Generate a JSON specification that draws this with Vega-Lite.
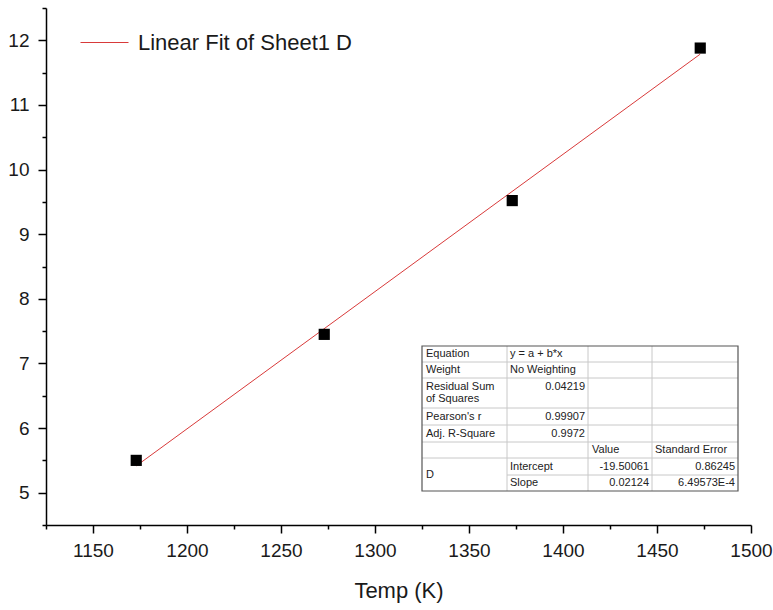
{
  "$schema": "https://vega.github.io/schema/vega-lite/v6.json",
  "width": 705,
  "height": 517,
  "autosize": {"type": "none"},
  "padding": {"left": 46, "top": 8, "right": 22, "bottom": 85},
  "background": "white",
  "config": {
    "view": {"stroke": null},
    "font": "Liberation Sans",
    "axis": {
      "domainColor": "black", "domainWidth": 1.5, "tickColor": "black", "tickWidth": 1.5,
      "grid": false, "labelColor": "#1a1a1a", "labelFont": "Liberation Sans", "labelFontSize": 19,
      "labelFlush": false, "labelOverlap": false, "titleFont": "Liberation Sans", "titleFontWeight": "normal", "titleColor": "#1a1a1a"
    }
  },
  "datasets": {
    "points": [
      {"Temp": 1173, "D": 5.50},
      {"Temp": 1273, "D": 7.45},
      {"Temp": 1373, "D": 9.52},
      {"Temp": 1473, "D": 11.88}
    ],
    "fit": [
      {"Temp": 1173, "D": 5.41439, "series": "Linear Fit of Sheet1 D"},
      {"Temp": 1473, "D": 11.78639, "series": "Linear Fit of Sheet1 D"}
    ],
    "frame": [{"x0": 0, "x1": 316, "y0": 0, "y1": 145}],
    "gridlines": [
      {"x0": 0, "x1": 316, "y0": 16, "y1": 16},
      {"x0": 0, "x1": 316, "y0": 32, "y1": 32},
      {"x0": 0, "x1": 316, "y0": 62, "y1": 62},
      {"x0": 0, "x1": 316, "y0": 79, "y1": 79},
      {"x0": 0, "x1": 316, "y0": 96, "y1": 96},
      {"x0": 0, "x1": 316, "y0": 112, "y1": 112},
      {"x0": 85, "x1": 316, "y0": 129, "y1": 129},
      {"x0": 85, "x1": 85, "y0": 0, "y1": 145},
      {"x0": 166, "x1": 166, "y0": 0, "y1": 145},
      {"x0": 230, "x1": 230, "y0": 0, "y1": 145}
    ],
    "texts": [
      {"t": "Equation", "x": 4, "y": 8, "kind": "l"},
      {"t": "y = a + b*x", "x": 88, "y": 8, "kind": "l"},
      {"t": "Weight", "x": 4, "y": 24, "kind": "l"},
      {"t": "No Weighting", "x": 88, "y": 24, "kind": "l"},
      {"t": "Residual Sum", "x": 4, "y": 41, "kind": "l"},
      {"t": "of Squares", "x": 4, "y": 53, "kind": "l"},
      {"t": "Pearson's r", "x": 4, "y": 71, "kind": "l"},
      {"t": "Adj. R-Square", "x": 4, "y": 88, "kind": "l"},
      {"t": "Value", "x": 170, "y": 104, "kind": "l"},
      {"t": "Standard Error", "x": 233, "y": 104, "kind": "l"},
      {"t": "D", "x": 4, "y": 129, "kind": "l"},
      {"t": "Intercept", "x": 88, "y": 121, "kind": "l"},
      {"t": "Slope", "x": 88, "y": 137, "kind": "l"},
      {"t": "0.04219", "x": 163, "y": 41, "kind": "r"},
      {"t": "0.99907", "x": 163, "y": 71, "kind": "r"},
      {"t": "0.9972", "x": 163, "y": 88, "kind": "r"},
      {"t": "-19.50061", "x": 227, "y": 121, "kind": "r"},
      {"t": "0.86245", "x": 313, "y": 121, "kind": "r"},
      {"t": "0.02124", "x": 227, "y": 137, "kind": "r"},
      {"t": "6.49573E-4", "x": 313, "y": 137, "kind": "r"}
    ]
  },
  "layer": [
    {
      "layer": [
        {
          "data": {"name": "fit"},
          "mark": {"type": "line", "strokeWidth": 1},
          "encoding": {
            "x": {
              "field": "Temp", "type": "quantitative",
              "scale": {"domain": [1125, 1500], "nice": false, "zero": false},
              "axis": {
                "orient": "bottom", "title": "Temp (K)", "titleFontSize": 22, "titlePadding": 20,
                "values": [1150, 1200, 1250, 1300, 1350, 1400, 1450, 1500],
                "format": "d", "tickSize": 8, "labelPadding": 8
              }
            },
            "y": {
              "field": "D", "type": "quantitative",
              "scale": {"domain": [4.5, 12.5], "nice": false, "zero": false},
              "axis": {
                "orient": "left", "title": null,
                "values": [5, 6, 7, 8, 9, 10, 11, 12],
                "format": "d", "tickSize": 8, "labelPadding": 9
              }
            },
            "color": {
              "field": "series", "type": "nominal",
              "scale": {"range": ["#d83a3a"]},
              "legend": {
                "title": null, "orient": "none", "legendX": 34, "legendY": 10, "padding": 0,
                "symbolType": "stroke", "symbolSize": 2304, "symbolStrokeWidth": 1, "labelLimit": 500,
                "labelFontSize": 22, "labelFont": "Liberation Sans", "labelColor": "#1a1a1a", "labelOffset": 9
              }
            }
          }
        },
        {
          "data": {"name": "points"},
          "mark": {"type": "square", "size": 125, "color": "black", "opacity": 1, "filled": true},
          "encoding": {
            "x": {
              "field": "Temp", "type": "quantitative",
              "axis": {
                "orient": "bottom", "title": null, "labels": false, "domain": false,
                "values": [1125, 1175, 1225, 1275, 1325, 1375, 1425, 1475], "tickSize": 4
              }
            },
            "y": {
              "field": "D", "type": "quantitative",
              "axis": {
                "orient": "left", "title": null, "labels": false, "domain": false,
                "values": [4.5, 5.5, 6.5, 7.5, 8.5, 9.5, 10.5, 11.5, 12.5], "tickSize": 4
              }
            }
          }
        }
      ],
      "resolve": {"axis": {"x": "independent", "y": "independent"}}
    },
    {
      "layer": [
        {
          "data": {"name": "frame"},
          "mark": {"type": "rect", "fill": "white", "stroke": null},
          "encoding": {
            "x": {"field": "x0", "type": "quantitative", "scale": {"domain": [-376, 329], "nice": false, "zero": false}, "axis": null},
            "x2": {"field": "x1"},
            "y": {"field": "y0", "type": "quantitative", "scale": {"domain": [-338, 179], "reverse": true, "nice": false, "zero": false}, "axis": null},
            "y2": {"field": "y1"}
          }
        },
        {
          "data": {"name": "gridlines"},
          "mark": {"type": "rule", "color": "#c8c8c8", "strokeWidth": 1},
          "encoding": {
            "x": {"field": "x0", "type": "quantitative"},
            "x2": {"field": "x1"},
            "y": {"field": "y0", "type": "quantitative"},
            "y2": {"field": "y1"}
          }
        },
        {
          "data": {"name": "frame"},
          "mark": {"type": "rect", "fill": null, "fillOpacity": 0, "stroke": "#555555", "strokeWidth": 1.2},
          "encoding": {
            "x": {"field": "x0", "type": "quantitative"},
            "x2": {"field": "x1"},
            "y": {"field": "y0", "type": "quantitative"},
            "y2": {"field": "y1"}
          }
        },
        {
          "data": {"name": "texts"},
          "transform": [{"filter": "datum.kind === 'l'"}],
          "mark": {"type": "text", "align": "left", "baseline": "middle", "fontSize": 11, "font": "Liberation Sans", "color": "#222222"},
          "encoding": {
            "x": {"field": "x", "type": "quantitative"},
            "y": {"field": "y", "type": "quantitative"},
            "text": {"field": "t"}
          }
        },
        {
          "data": {"name": "texts"},
          "transform": [{"filter": "datum.kind === 'r'"}],
          "mark": {"type": "text", "align": "right", "baseline": "middle", "fontSize": 11, "font": "Liberation Sans", "color": "#222222"},
          "encoding": {
            "x": {"field": "x", "type": "quantitative"},
            "y": {"field": "y", "type": "quantitative"},
            "text": {"field": "t"}
          }
        }
      ]
    }
  ],
  "resolve": {"scale": {"x": "independent", "y": "independent"}}
}
